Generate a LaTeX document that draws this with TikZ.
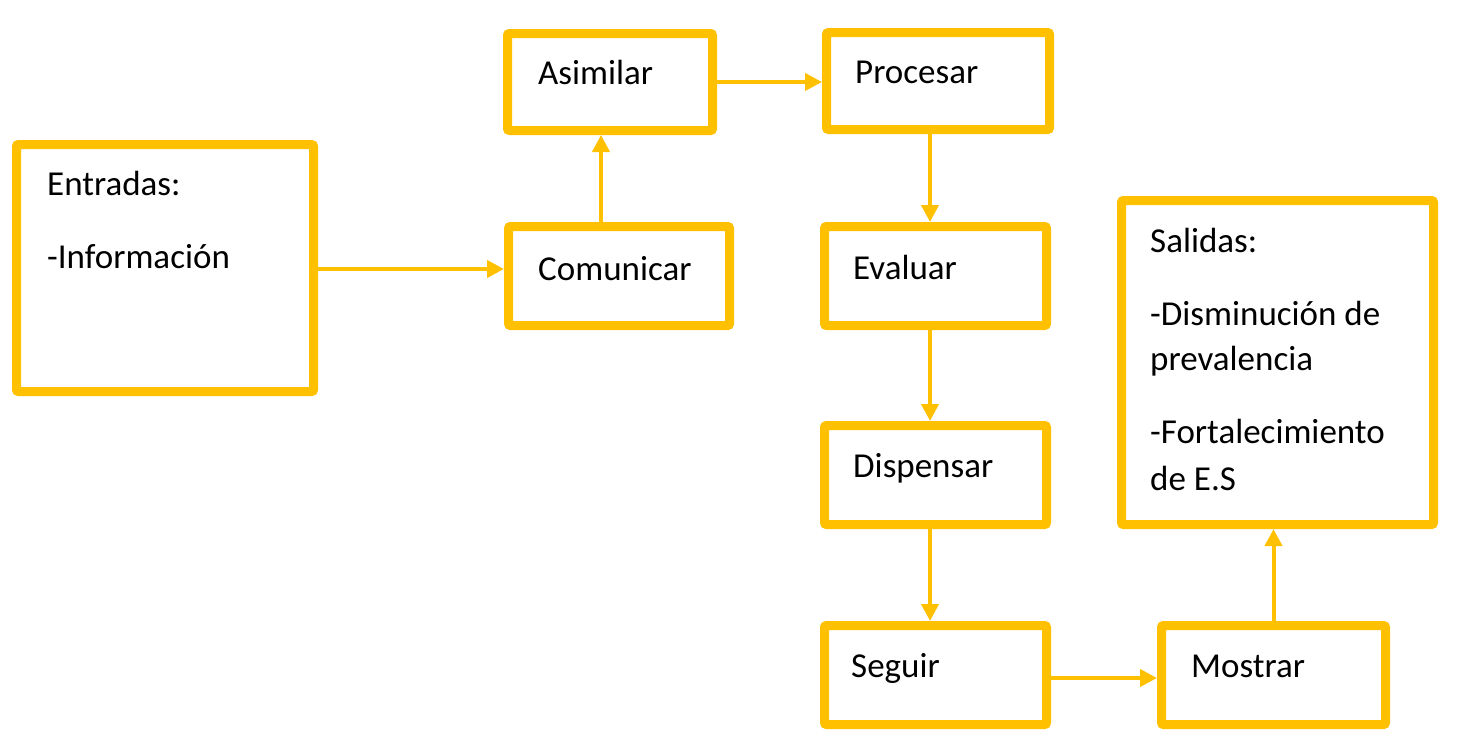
\documentclass[tikz,border=0pt]{standalone}
\usepackage{fontspec}
\setmainfont{Carlito}
\usetikzlibrary{arrows.meta}
\definecolor{gold}{HTML}{FFC000}
\begin{document}
\begin{tikzpicture}[x=1pt,y=-1pt,
 box/.style={draw=gold, line width=9pt, rounded corners=2pt, inner sep=0pt, fill=white},
 lbl/.style={anchor=base west, inner sep=0pt, font=\fontsize{35}{45}\selectfont},
 conn/.style={draw=gold, line width=4pt, -{Triangle[length=17pt,width=17pt]}}]
\useasboundingbox (0,0) rectangle (1466,744);
% boxes
\node[box, minimum width=297pt, minimum height=247pt] (ent) at (165,268) {};
\node[box, minimum width=205pt, minimum height=97pt] (asi) at (610,82) {};
\node[box, minimum width=223pt, minimum height=97pt] (pro) at (938,81) {};
\node[box, minimum width=221pt, minimum height=99pt] (com) at (619,276) {};
\node[box, minimum width=222pt, minimum height=99pt] (eva) at (935.5,276) {};
\node[box, minimum width=222pt, minimum height=99pt] (dis) at (935.5,475) {};
\node[box, minimum width=222pt, minimum height=99pt] (seg) at (935.5,675) {};
\node[box, minimum width=224pt, minimum height=99pt] (mos) at (1273.5,675) {};
\node[box, minimum width=312pt, minimum height=324pt] (sal) at (1277.5,362.5) {};
% texts
\node[lbl] (t1) at (47,195) {Entradas:};
\node[lbl] (t2) at (47,268) {-Información};
\node[lbl] (t3) at (538,84) {Asimilar};
\node[lbl] (t4) at (855,83) {Procesar};
\node[lbl] (t5) at (538,280) {Comunicar};
\node[lbl] (t6) at (853,279) {Evaluar};
\node[lbl] (t7) at (853,477) {Dispensar};
\node[lbl] (t8) at (851,677) {Seguir};
\node[lbl] (t9) at (1191,677) {Mostrar};
\node[lbl] (t10) at (1150,252) {Salidas:};
\node[lbl] (t11) at (1150,325) {-Disminución de};
\node[lbl] (t12) at (1150,370) {prevalencia};
\node[lbl] (t13) at (1150,443) {-Fortalecimiento};
\node[lbl] (t14) at (1150,490) {de E.S};
% connectors
\coordinate (xa) at (601,0);
\coordinate (xb) at (930,0);
\coordinate (ya) at (0,269);
\coordinate (yb) at (0,678);
\draw[conn] (ent.east |- ya) -- (com.west |- ya);
\draw[conn] (com.north -| xa) -- (asi.south -| xa);
\draw[conn] (asi.east) -- (asi.east -| pro.west);
\draw[conn] (pro.south -| xb) -- (eva.north -| xb);
\draw[conn] (eva.south -| xb) -- (dis.north -| xb);
\draw[conn] (dis.south -| xb) -- (seg.north -| xb);
\draw[conn] (seg.east |- yb) -- (mos.west |- yb);
\draw[conn] (mos.north) -- (sal.south -| mos.north);
\end{tikzpicture}
\end{document}
